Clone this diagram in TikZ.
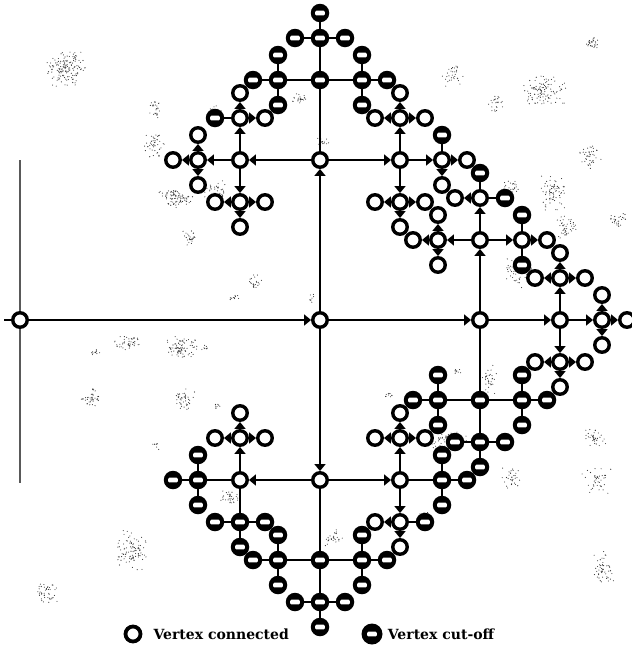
\documentclass[tikz,border=0pt]{standalone}
\usepackage{fontspec}
\setmainfont{DejaVu Serif}
\usetikzlibrary{arrows.meta, positioning}

% grey dust in the background: centre x, centre y, spread x, spread y, dots
\newcommand{\dirtspot}[5]{%
  \foreach \k in {1,...,#5}{%
    \pgfmathsetmacro\dx{#3*(rand+rand)/2}%
    \pgfmathsetmacro\dy{#4*(rand+rand)/2}%
    \fill[dust] (#1+\dx,#2+\dy) circle[radius=0.55];
  }}

\begin{document}
\begin{tikzpicture}[
    x=1pt, y=-1pt,
    conn/.style={circle, draw=black, line width=3.4pt, fill=white, minimum size=14.5pt, inner sep=0pt},
    cut/.style={circle, fill=black, minimum size=18.5pt, inner sep=0pt,
      path picture={\fill[white, rounded corners=1.2pt]
        ([xshift=-4.8pt, yshift=-2.4pt]path picture bounding box.center) rectangle
        ([xshift=4.8pt, yshift=2.4pt]path picture bounding box.center);}},
    conn edge/.style={draw, line width=1.6pt, -{Triangle[length=7pt, width=11pt]}},
    cut edge/.style={draw, line width=1.6pt},
    legend/.style={inner sep=0pt, font=\bfseries\fontsize{14}{16}\selectfont},
    dust/.style={fill=black!80},
]
\useasboundingbox (0,0) rectangle (632,646);

% background dust
\pgfmathsetseed{7}
\foreach \cx/\cy/\rx/\ry/\m in {65/68/22/20/150, 155/108/6/10/25, 154/146/12/14/45,
    175/198/20/10/85, 190/238/8/9/28, 96/352/6/4/12, 128/343/16/9/45, 181/348/17/12/85,
    90/397/10/13/38, 185/399/11/14/42, 156/446/4/5/8, 132/550/16/22/95, 48/593/13/11/45,
    593/43/7/8/28, 545/92/24/18/110, 590/156/13/13/42, 553/192/13/22/75, 510/188/9/8/25,
    565/227/14/12/42, 619/221/11/8/28, 520/272/17/18/65, 595/437/12/9/38, 597/480/15/16/42,
    511/478/10/13/32, 604/568/12/18/50, 453/76/12/12/32, 497/104/9/11/24, 300/98/8/8/24,
    215/110/7/5/12, 322/142/9/5/15, 214/190/14/10/38, 255/282/7/10/24, 235/298/6/4/10,
    312/299/4/6/8, 205/348/4/6/8, 457/372/5/4/10, 490/380/9/16/32, 390/394/6/4/10,
    218/406/4/4/8, 448/440/20/10/55, 230/498/12/8/32, 334/537/10/9/28, 424/516/7/6/15}
  {\dirtspot{\cx}{\cy}{\rx}{\ry}{\m}}

% root with its bar
\coordinate (tail) at (4,320);
\coordinate (bartop) at (20,160);
\coordinate (barbot) at (20,483);
\draw[line width=1.6pt, black!65] (bartop) -- (barbot);
\node[conn] (root) at (20,320) {};
\node[conn] (a) at (320,320) {};
\draw[cut edge] (tail) -- (root);
\draw[conn edge] (root) -- (a);

% tree, level by level: parent / child / x / y / kind
\foreach \p/\c/\x/\y/\t in {
    a/n/320/160/conn, a/s/320/480/conn, a/e/480/320/conn,
    n/nw/240/160/conn, n/ne/400/160/conn, n/nn/320/80/cut,
    s/sw/240/480/conn, s/se/400/480/conn, s/ss/320/560/cut,
    e/ee/560/320/conn, e/en/480/240/conn, e/es/480/400/cut,
    nw/nww/198/160/conn, nw/nwn/240/118/conn, nw/nws/240/202/conn,
    ne/nee/442/160/conn, ne/nen/400/118/conn, ne/nes/400/202/conn,
    nn/nnn/320/38/cut, nn/nnw/278/80/cut, nn/nne/362/80/cut,
    sw/sww/198/480/cut, sw/swn/240/438/conn, sw/sws/240/522/cut,
    se/see/442/480/cut, se/sen/400/438/conn, se/ses/400/522/conn,
    ss/sss/320/602/cut, ss/ssw/278/560/cut, ss/sse/362/560/cut,
    ee/eee/602/320/conn, ee/een/560/278/conn, ee/ees/560/362/conn,
    en/enn/480/198/conn, en/enw/438/240/conn, en/ene/522/240/conn,
    es/ess/480/442/cut, es/esw/438/400/cut, es/ese/522/400/cut,
    nww/nwww/173/160/conn, nww/nwwn/198/135/conn, nww/nwws/198/185/conn,
    nwn/nwnn/240/93/conn, nwn/nwnw/215/118/cut, nwn/nwne/265/118/conn,
    nws/nwss/240/227/conn, nws/nwsw/215/202/conn, nws/nwse/265/202/conn,
    nee/neee/467/160/conn, nee/neen/442/135/cut, nee/nees/442/185/conn,
    nen/nenn/400/93/conn, nen/nenw/375/118/conn, nen/nene/425/118/conn,
    nes/ness/400/227/conn, nes/nesw/375/202/conn, nes/nese/425/202/conn,
    nnn/nnnn/320/13/cut, nnn/nnnw/295/38/cut, nnn/nnne/345/38/cut,
    nnw/nnww/253/80/cut, nnw/nnwn/278/55/cut, nnw/nnws/278/105/cut,
    nne/nnee/387/80/cut, nne/nnen/362/55/cut, nne/nnes/362/105/cut,
    sww/swww/173/480/cut, sww/swwn/198/455/cut, sww/swws/198/505/cut,
    swn/swnn/240/413/conn, swn/swnw/215/438/conn, swn/swne/265/438/conn,
    sws/swss/240/547/cut, sws/swsw/215/522/cut, sws/swse/265/522/cut,
    see/seee/467/480/cut, see/seen/442/455/cut, see/sees/442/505/cut,
    sen/senn/400/413/conn, sen/senw/375/438/conn, sen/sene/425/438/conn,
    ses/sess/400/547/conn, ses/sesw/375/522/conn, ses/sese/425/522/cut,
    sss/ssss/320/627/cut, sss/sssw/295/602/cut, sss/ssse/345/602/cut,
    ssw/ssww/253/560/cut, ssw/sswn/278/535/cut, ssw/ssws/278/585/cut,
    sse/ssee/387/560/cut, sse/ssen/362/535/cut, sse/sses/362/585/cut,
    eee/eeee/627/320/conn, eee/eeen/602/295/conn, eee/eees/602/345/conn,
    een/eenn/560/253/conn, een/eenw/535/278/conn, een/eene/585/278/conn,
    ees/eess/560/387/conn, ees/eesw/535/362/conn, ees/eese/585/362/conn,
    enn/ennn/480/173/cut, enn/ennw/455/198/conn, enn/enne/505/198/cut,
    enw/enww/413/240/conn, enw/enwn/438/215/conn, enw/enws/438/265/conn,
    ene/enee/547/240/conn, ene/enen/522/215/cut, ene/enes/522/265/cut,
    ess/esss/480/467/cut, ess/essw/455/442/cut, ess/esse/505/442/cut,
    esw/esww/413/400/cut, esw/eswn/438/375/cut, esw/esws/438/425/cut,
    ese/esee/547/400/cut, ese/esen/522/375/cut, ese/eses/522/425/cut}
{
  \node[\t] (\c) at (\x,\y) {};
  \draw[\t\space edge] (\p) -- (\c);
}

% legend
\node[conn, minimum size=15pt, line width=3.8pt] (keyconn) at (133,634) {};
\node[legend, right=11pt of keyconn] (keyconntext) {Vertex connected};
\node[cut, minimum size=21pt] (keycut) at (372,634) {};
\node[legend, right=5pt of keycut] (keycuttext) {Vertex cut-off};

\end{tikzpicture}
\end{document}
